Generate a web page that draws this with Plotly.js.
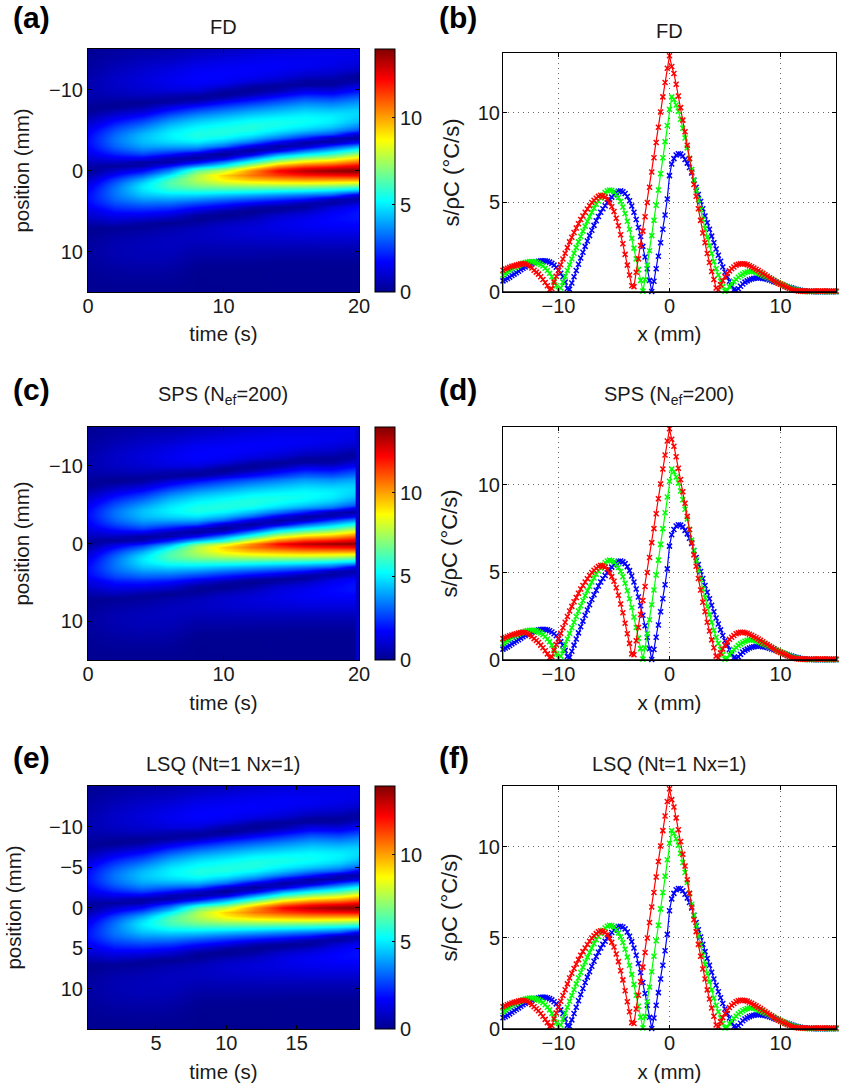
<!DOCTYPE html>
<html><head><meta charset="utf-8">
<script src="https://cdn.plot.ly/plotly-3.0.1.min.js"></script>
<style>html,body{margin:0;padding:0;background:#fff}#g{width:851px;height:1088px}</style>
</head><body><div id="g"></div>
<script>
// Profile slices: x from -15 mm in 0.2 mm steps
const sliceBlue=[.62,.68,.75,.83,.92,1.0,1.08,1.16,1.25,1.33,1.4,1.47,1.53,1.58,1.63,1.68,1.72,1.74,1.75,1.74,1.72,1.67,1.6,1.5,1.38,1.22,1.05,.85,.55,.2,.15,.5,.85,1.2,1.55,1.9,2.22,2.55,2.85,3.15,3.45,3.72,3.98,4.22,4.45,4.65,4.82,5.0,5.15,5.3,5.42,5.55,5.63,5.65,5.6,5.5,5.33,5.1,4.8,4.45,4.05,3.6,3.1,2.55,1.95,1.3,.65,.03,.6,1.3,2.0,2.75,3.5,4.3,5.2,6.5,7.15,7.45,7.65,7.72,7.7,7.6,7.4,7.2,6.95,6.65,6.25,5.85,5.45,5.05,4.65,4.25,3.87,3.5,3.12,2.75,2.4,2.05,1.72,1.4,1.1,.85,.6,.35,.12,.1,.18,.32,.45,.55,.62,.68,.73,.76,.78,.79,.78,.76,.74,.71,.67,.63,.58,.54,.5,.45,.4,.35,.31,.27,.23,.19,.15,.12,.09,.07,.05,.04,.03,.03,.02,.02,.02,.02,.02,.02,.02,.02,.01,.01,.01];
const sliceGreen=[.95,1.03,1.12,1.2,1.28,1.36,1.42,1.48,1.54,1.6,1.64,1.68,1.7,1.7,1.69,1.65,1.6,1.54,1.45,1.33,1.2,1.05,.85,.62,.35,.1,.22,.55,.88,1.2,1.52,1.84,2.16,2.48,2.8,3.1,3.4,3.68,3.95,4.2,4.45,4.68,4.9,5.08,5.25,5.42,5.55,5.65,5.7,5.68,5.6,5.45,5.28,5.05,4.75,4.38,3.95,3.5,3.0,2.45,1.85,1.25,.65,.05,.7,1.5,2.3,3.15,4.0,4.85,5.7,6.6,7.5,8.4,9.3,10.2,10.9,10.75,10.45,10.1,9.65,9.15,8.6,8.05,7.45,6.85,6.25,5.7,5.15,4.6,4.05,3.55,3.05,2.6,2.15,1.7,1.3,.95,.6,.3,.05,.1,.3,.45,.58,.7,.82,.92,1.0,1.07,1.12,1.15,1.15,1.13,1.1,1.05,1.0,.94,.88,.82,.76,.7,.64,.57,.52,.46,.4,.35,.3,.25,.2,.16,.12,.09,.06,.04,.03,.03,.03,.03,.03,.03,.03,.03,.03,.03,.02,.02,.02,.02,.02];
const sliceRed=[1.22,1.28,1.33,1.38,1.43,1.47,1.5,1.54,1.57,1.58,1.57,1.52,1.45,1.34,1.22,1.11,1.0,.85,.7,.53,.35,.13,.18,.55,.88,1.2,1.52,1.84,2.16,2.48,2.8,3.06,3.32,3.57,3.81,4.05,4.25,4.45,4.64,4.82,5.0,5.12,5.24,5.34,5.4,5.36,5.3,5.17,5.0,4.76,4.5,4.12,3.7,3.2,2.7,2.1,1.5,.95,.35,.3,1.1,1.85,2.6,3.4,4.2,5.0,5.85,6.7,7.5,8.35,9.2,10.05,10.9,11.7,12.5,13.2,12.6,12.2,11.6,10.95,10.3,9.6,8.95,8.2,7.45,6.7,6.0,5.35,4.65,4.0,3.3,2.75,2.15,1.65,1.15,.7,.22,.13,.4,.63,.85,1.02,1.18,1.3,1.4,1.5,1.55,1.58,1.58,1.56,1.53,1.47,1.41,1.34,1.27,1.2,1.12,1.04,.96,.88,.8,.72,.64,.56,.49,.43,.37,.31,.25,.2,.15,.11,.08,.06,.05,.05,.05,.05,.06,.06,.06,.06,.06,.06,.06,.06,.06,.06,.05,.05,.05,.04,.04,.03,.03];
const stubX=[-15,-15], stubY=[0,1.22];

// Heat map columns: one per time (0,2,...,20 s), position from -15 mm in 0.5 mm steps
const heatT00=[.1,.12,.15,.2,.25,.3,.35,.4,.45,.48,.5,.48,.42,.3,.15,.05,.3,.6,.9,1.2,1.5,1.7,1.8,1.85,1.75,1.6,1.35,1.05,.75,.35,.05,.4,.85,1.2,1.5,1.7,1.85,1.85,1.75,1.5,1.2,1.0,.7,.4,.15,.05,.1,.17,.22,.25,.25,.25,.22,.18,.15,.12,.1,.08,.06,.05,.04];
const heatT02=[.25,.3,.38,.48,.58,.68,.78,.86,.9,.88,.8,.65,.45,.2,.05,.5,1.0,1.5,2.0,2.45,2.85,3.15,3.33,3.3,3.1,2.7,2.15,1.5,.8,.2,1.0,1.8,2.5,3.0,3.3,3.4,3.35,3.15,2.8,2.4,1.95,1.5,1.1,.65,.15,.2,.35,.45,.52,.55,.55,.52,.47,.4,.32,.25,.2,.15,.1,.08,.05];
const heatT04=[.35,.45,.58,.72,.85,.98,1.08,1.15,1.18,1.12,1.0,.8,.5,.1,.35,.95,1.55,2.2,2.8,3.35,3.85,4.25,4.4,4.3,3.95,3.4,2.65,1.6,.3,.5,1.8,3.0,4.0,4.7,5.0,4.8,4.4,3.85,3.25,2.65,2.05,1.5,.9,.3,.15,.35,.48,.58,.64,.66,.65,.62,.55,.47,.38,.3,.23,.17,.12,.09,.06];
const heatT06=[.42,.55,.72,.9,1.08,1.25,1.38,1.47,1.5,1.42,1.25,.65,.3,.3,1.2,1.9,2.65,3.35,3.95,4.45,4.85,5.08,5.05,4.7,4.05,3.1,2.0,.6,.4,1.95,3.6,5.0,6.0,6.35,6.1,5.5,4.7,3.95,3.2,2.5,1.8,1.15,.55,.05,.4,.58,.68,.75,.75,.72,.68,.62,.53,.44,.35,.27,.2,.15,.11,.08,.05];
const heatT08=[.62,.79,1.0,1.2,1.4,1.55,1.68,1.75,1.72,1.55,1.22,.5,.15,.8,1.9,2.7,3.45,4.1,4.65,5.08,5.42,5.64,5.5,4.95,4.05,2.85,.9,.3,1.6,3.9,6.5,7.55,7.7,7.3,6.65,5.65,4.65,3.68,2.75,1.88,1.1,.3,.1,.3,.62,.75,.79,.75,.67,.56,.45,.33,.23,.13,.07,.03,.02,.02,.02,.01,.01];
const heatT10=[.75,.95,1.17,1.37,1.53,1.65,1.73,1.7,1.58,1.25,.5,.05,.6,1.75,2.55,3.3,3.95,4.55,5.05,5.4,5.65,5.6,5.15,4.3,3.2,1.1,.1,1.1,3.5,5.4,7.9,9.3,8.9,8.0,6.8,5.6,4.35,3.25,2.25,1.35,.4,.05,.3,.75,.92,.97,.95,.84,.72,.58,.46,.34,.22,.13,.07,.04,.03,.03,.03,.02,.02];
const heatT12=[.95,1.16,1.36,1.51,1.64,1.7,1.65,1.5,1.2,.5,.1,.5,1.52,2.32,3.1,3.82,4.45,5.0,5.42,5.68,5.6,5.17,4.38,3.25,1.4,.2,1.2,3.58,5.7,7.95,10.2,10.6,9.65,8.33,6.85,5.43,4.05,2.82,1.7,.5,.05,.3,.7,.96,1.12,1.14,1.05,.91,.76,.6,.46,.33,.2,.1,.04,.03,.03,.03,.03,.02,.02];
const heatT14=[1.1,1.3,1.48,1.6,1.65,1.6,1.45,1.2,.85,.2,.4,1.35,2.15,2.9,3.6,4.2,4.75,5.2,5.52,5.45,5.05,4.35,3.3,1.6,.3,1.1,3.7,5.8,8.0,10.2,12.2,11.4,10.0,8.5,6.8,5.2,3.7,2.4,1.2,.15,.35,.95,1.2,1.35,1.35,1.25,1.12,.95,.78,.6,.44,.3,.17,.08,.05,.05,.05,.05,.04,.03,.03];
const heatT16=[1.22,1.36,1.47,1.56,1.57,1.4,1.11,.78,.25,.25,1.2,2.0,2.8,3.45,4.05,4.55,5.0,5.3,5.36,5.08,4.5,3.45,2.1,.35,.8,3.0,5.0,7.1,9.2,11.3,13.2,11.9,10.3,8.58,6.7,5.0,3.3,1.9,.45,.2,.85,1.24,1.5,1.58,1.53,1.38,1.2,1.0,.8,.6,.43,.28,.15,.07,.05,.05,.06,.06,.06,.05,.03];
const heatT18=[1.3,1.42,1.5,1.48,1.38,1.2,.95,.6,.2,.3,1.05,1.85,2.6,3.3,3.9,4.45,4.9,5.1,5.0,4.6,3.85,2.8,.6,.5,2.5,4.3,6.0,7.9,9.8,11.8,13.7,12.1,10.3,8.4,6.5,4.6,2.9,.6,.35,1.1,1.5,1.72,1.8,1.75,1.6,1.42,1.22,1.02,.82,.62,.44,.3,.18,.09,.06,.06,.06,.06,.05,.04,.03];
const heatT20=[1.38,1.42,1.38,1.28,1.12,.9,.45,.12,.4,1.1,1.85,2.55,3.2,3.75,4.2,4.6,4.7,4.55,4.2,3.6,2.8,.9,.3,1.7,3.9,5.7,7.5,9.2,10.9,12.6,13.9,12.3,10.3,8.2,6.0,3.9,1.0,.35,1.1,1.8,1.95,2.0,1.95,1.8,1.62,1.42,1.2,1.0,.8,.6,.44,.3,.18,.09,.06,.06,.06,.06,.05,.04,.03];
const heatColumns=[heatT00,heatT02,heatT04,heatT06,heatT08,heatT10,heatT12,heatT14,heatT16,heatT18,heatT20];

const panelTitles=['FD','SPS (N<sub>ef</sub>=200)','LSQ (Nt=1 Nx=1)'];
const panelLabels=[['(a)','(b)'],['(c)','(d)'],['(e)','(f)']];
const timeRanges=[[0,20],[0,20],[0.17,19.43]];
const timeTicks=[[0,10,20],[0,10,20],[5,10,15]];
const posTicks=[[-10,0,10],[-10,0,10],[-10,-5,0,5,10]];
const sliceTop=[13.35,13.3,13.35];

const W=851,H=1088,FONT='"Liberation Sans",Arial,sans-serif',INK='#1a1a1a';
const fx=p=>p/W, fy=p=>1-p/H;
const jet=[[0,'#00008f'],[.125,'#0000ff'],[.375,'#00ffff'],[.625,'#ffff00'],[.875,'#ff0000'],[1,'#800000']];
const leftBox=[[49,292],[427,660],[786,1029]], rightBox=[[53,292],[427,660],[786,1029]];
const titleY=[[27,31],[395,395],[764,764]], labelY=[17,389,757];
const timeStandoff=[10,11,11], posStandoff=[13,13,21], sliceStandoff=[12,14,14];
const tickFont={family:FONT,size:20,color:INK};
const titleFont={family:FONT,size:20.5,color:INK};
const sliceTitleFont={family:FONT,size:22,color:INK};
const traces=[], annotations=[], shapes=[];
const layout={width:W,height:H,margin:{l:0,r:0,t:0,b:0,pad:0},paper_bgcolor:'#fff',plot_bgcolor:'#fff',showlegend:false,font:{family:FONT,color:INK}};
const axisBase={showline:true,linecolor:'#000',linewidth:1,mirror:'ticks',ticks:'inside',ticklen:4,tickwidth:1,tickcolor:'#000',tickfont:tickFont,zeroline:false,showgrid:false};
const gridStyle={showgrid:true,gridcolor:'#666',griddash:'1px,4px',gridwidth:1};

panelTitles.forEach((title,r)=>{
  const a=2*r+1,b=2*r+2;
  const xa='x'+a,ya='y'+a,xb='x'+b,yb='y'+b;
  const [lt,lb]=leftBox[r],[rt,rb]=rightBox[r];
  traces.push({type:'heatmap',xaxis:xa,yaxis:ya,z:heatColumns,transpose:true,x0:0,dx:2,y0:-15,dy:.5,
    zsmooth:'best',zmin:0,zmax:13.95,colorscale:jet,hoverinfo:'skip',
    colorbar:{x:fx(375),xanchor:'left',xref:'paper',y:fy(lb),yanchor:'bottom',yref:'paper',
      len:lb-lt,lenmode:'pixels',thickness:20,thicknessmode:'pixels',xpad:0,ypad:0,
      outlinecolor:'#000',outlinewidth:1,ticks:'inside',ticklen:3,tickcolor:'#000',tickvals:[0,5,10],tickfont:tickFont}});
  [[sliceBlue,'#0000ff'],[sliceGreen,'#00ff00'],[sliceRed,'#ff0000']].forEach(([y,c])=>{
    traces.push({type:'scatter',mode:'lines+markers',xaxis:xb,yaxis:yb,x0:-15,dx:.2,y,cliponaxis:false,
      line:{color:c,width:1.2},marker:{symbol:'x-thin',size:5,line:{color:c,width:1.5}}});
  });
  traces.push({type:'scatter',mode:'lines',xaxis:xb,yaxis:yb,x:stubX,y:stubY,line:{color:'#7a4a20',width:1}});
  layout['xaxis'+a]={...axisBase,domain:[fx(88),fx(359)],anchor:ya,range:timeRanges[r],tickvals:timeTicks[r],ticklabelstandoff:-4,
    title:{text:'time (s)',font:titleFont,standoff:timeStandoff[r]}};
  layout['yaxis'+a]={...axisBase,domain:[fy(lb),fy(lt)],anchor:xa,range:[15,-15],tickvals:posTicks[r],
    title:{text:'position (mm)',font:titleFont,standoff:posStandoff[r]}};
  layout['xaxis'+b]={...axisBase,...gridStyle,domain:[fx(503),fx(836)],anchor:yb,range:[-15,15],tickvals:[-10,0,10],ticklabelstandoff:-4,
    title:{text:'x (mm)',font:titleFont,standoff:timeStandoff[r]}};
  layout['yaxis'+b]={...axisBase,...gridStyle,domain:[fy(rb),fy(rt)],anchor:xb,range:[0,sliceTop[r]],tickvals:[0,5,10],ticklabelstandoff:-2,
    title:{text:'s/ρC (°C/s)',font:sliceTitleFont,standoff:sliceStandoff[r]}};
  const note=(text,x,y,size,anchor)=>annotations.push({text,x:fx(x),y:fy(y),xref:'paper',yref:'paper',xanchor:anchor,yanchor:'middle',showarrow:false,font:{family:FONT,size,color:anchor==='left'?'#000':INK}});
  note(title,223,titleY[r][0],20,'center');
  note(title,669,titleY[r][1],20,'center');
  note('<b>'+panelLabels[r][0]+'</b>',11,labelY[r],30,'left');
  note('<b>'+panelLabels[r][1]+'</b>',437,labelY[r],30,'left');
  shapes.push({type:'line',xref:xb,yref:yb,x0:-15,x1:15,y0:0,y1:0,line:{color:'#000',width:1.5},layer:'above'});
  if(r===1) shapes.push({type:'rect',xref:xa,yref:ya,x0:19.75,x1:20,y0:-15,y1:15,fillcolor:'#0000c8',line:{width:0},layer:'above'});
});
layout.annotations=annotations;layout.shapes=shapes;
Plotly.newPlot('g',traces,layout,{displayModeBar:false,staticPlot:true});
</script></body></html>
